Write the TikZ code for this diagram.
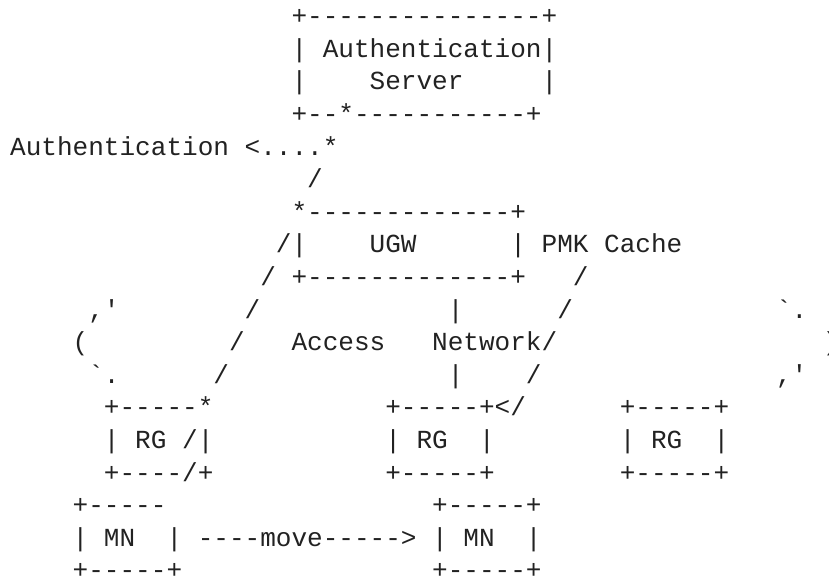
\documentclass[tikz,border=0pt]{standalone}
\usepackage{fontspec}
\setmonofont{Liberation Mono}
\definecolor{ink}{RGB}{34,34,34}
\tikzset{
  tk/.style={font=\ttfamily\fontsize{26.05pt}{30pt}\selectfont, text=ink,
    anchor=base west, inner sep=0pt, outer sep=0pt}
}
\newcommand\tok[4]{\node[tk] (#1) at ({10.2pt+15.63pt*#2},{-24.6pt-32.6pt*(#3-1)}) {#4};}
\begin{document}
\begin{tikzpicture}
\fill[white] (0,0) rectangle (829pt,-579pt);
\useasboundingbox (0,0) rectangle (829pt,-579pt);
% Authentication Server box
\tok{asA}{18}{1}{+---------------+}
\tok{asB}{18}{2}{|}
\tok{asC}{20}{2}{Authentication}
\tok{asD}{34}{2}{|}
\tok{asE}{18}{3}{|}
\tok{asF}{23}{3}{Server}
\tok{asG}{34}{3}{|}
\tok{asH}{18}{4}{+--*-----------+}
% Authentication label
\tok{authL}{0}{5}{Authentication}
\tok{authA}{15}{5}{<....*}
\tok{sl6}{19}{6}{/}
% UGW box
\tok{ugA}{18}{7}{*-------------+}
\tok{ugB}{17}{8}{/|}
\tok{ugC}{23}{8}{UGW}
\tok{ugD}{32}{8}{|}
\tok{pmk}{34}{8}{PMK}
\tok{cache}{38}{8}{Cache}
\tok{sl9a}{16}{9}{/}
\tok{ugE}{18}{9}{+-------------+}
\tok{sl9b}{36}{9}{/}
% Access network cloud
\tok{c10a}{5}{10}{,'}
\tok{sl10a}{15}{10}{/}
\tok{v10}{28}{10}{|}
\tok{sl10b}{35}{10}{/}
\tok{c10b}{49}{10}{`.}
\tok{c11a}{4}{11}{(}
\tok{sl11a}{14}{11}{/}
\tok{acc}{18}{11}{Access}
\tok{net}{27}{11}{Network/}
\tok{c11b}{52}{11}{)}
\tok{c12a}{5}{12}{`.}
\tok{sl12a}{13}{12}{/}
\tok{v12}{28}{12}{|}
\tok{sl12b}{33}{12}{/}
\tok{c12b}{49}{12}{,'}
% RG boxes
\tok{rg1a}{6}{13}{+-----*}
\tok{rg2a}{24}{13}{+-----+</}
\tok{rg3a}{39}{13}{+-----+}
\tok{rg1b}{6}{14}{|}
\tok{rg1c}{8}{14}{RG}
\tok{rg1d}{11}{14}{/|}
\tok{rg2b}{24}{14}{|}
\tok{rg2c}{26}{14}{RG}
\tok{rg2d}{30}{14}{|}
\tok{rg3b}{39}{14}{|}
\tok{rg3c}{41}{14}{RG}
\tok{rg3d}{45}{14}{|}
\tok{rg1e}{6}{15}{+----/+}
\tok{rg2e}{24}{15}{+-----+}
\tok{rg3e}{39}{15}{+-----+}
% MN boxes
\tok{mn1a}{4}{16}{+-----}
\tok{mn2a}{27}{16}{+-----+}
\tok{mn1b}{4}{17}{|}
\tok{mn1c}{6}{17}{MN}
\tok{mn1d}{10}{17}{|}
\tok{move}{12}{17}{----move----->}
\tok{mn2b}{27}{17}{|}
\tok{mn2c}{29}{17}{MN}
\tok{mn2d}{33}{17}{|}
\tok{mn1e}{4}{18}{+-----+}
\tok{mn2e}{27}{18}{+-----+}
\end{tikzpicture}
\end{document}
